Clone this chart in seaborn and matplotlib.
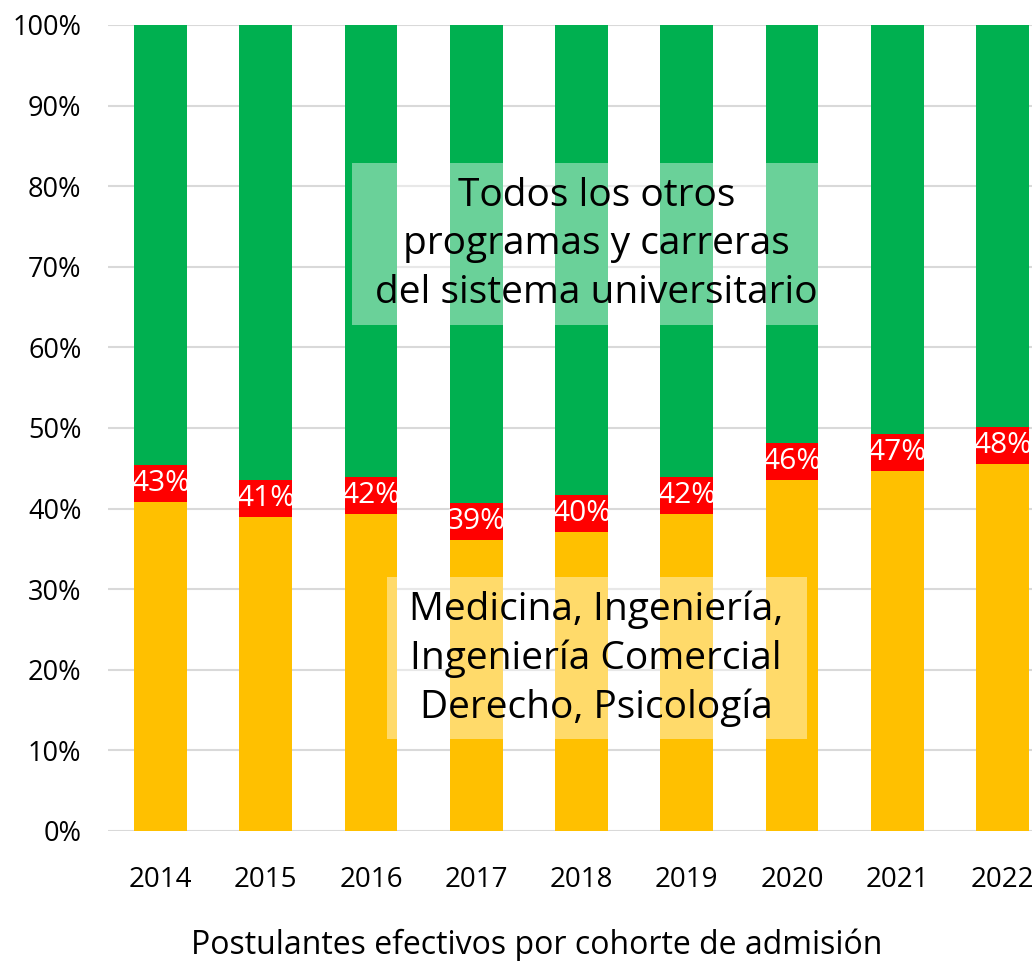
import matplotlib
matplotlib.use("Agg")
import matplotlib.pyplot as plt
import seaborn as sns
import pandas as pd
from matplotlib.patches import Rectangle

# Datos
years = ["2014", "2015", "2016", "2017", "2018", "2019", "2020", "2021", "2022"]
share_top5 = [43.1, 41.3, 41.6, 38.4, 39.4, 41.6, 45.8, 47.0, 47.8]
share_labels = ["43%", "41%", "42%", "39%", "40%", "42%", "46%", "47%", "48%"]

df = pd.DataFrame({"year": years, "total": [100] * len(years), "top5": share_top5})

sns.set_style("white")
plt.rcParams["font.family"] = ["Open Sans", "DejaVu Sans"]

fig = plt.figure(figsize=(10.34, 9.61), dpi=100)
ax = fig.add_axes([0.1044, 0.1353, 0.8936, 0.8387])

green = "#00B050"
yellow = "#FFC000"
red = "#FF0000"

sns.barplot(data=df, x="year", y="total", color=green, width=0.5, saturation=1,
            linewidth=0, ax=ax, zorder=2)
sns.barplot(data=df, x="year", y="top5", color=yellow, width=0.5, saturation=1,
            linewidth=0, ax=ax, zorder=3)

# Etiquetas rojas centradas en el borde entre segmentos
box_h = 4.6
ax.bar(range(len(years)), [box_h] * len(years), bottom=[v - box_h / 2 for v in share_top5],
       width=0.5, color=red, linewidth=0, zorder=4)
for i, (v, lab) in enumerate(zip(share_top5, share_labels)):
    ax.text(i, v, lab, ha="center", va="center", color="white", fontsize=21.5, zorder=5)

# Cuadros de texto semitransparentes
ax.add_patch(Rectangle((1.816, 62.8), 4.43, 20.1, facecolor="white", alpha=0.42,
                       edgecolor="none", zorder=6))
ax.text(4.14, 72.8, "Todos los otros\nprogramas y carreras\ndel sistema universitario",
        ha="center", va="center", fontsize=28, linespacing=1.36, color="black", zorder=7)
ax.add_patch(Rectangle((2.15, 11.4), 3.99, 20.1, facecolor="white", alpha=0.42,
                       edgecolor="none", zorder=6))
ax.text(4.14, 21.4, "Medicina, Ingeniería,\nIngeniería Comercial\nDerecho, Psicología",
        ha="center", va="center", fontsize=28, linespacing=1.36, color="black", zorder=7)

ax.set_ylim(0, 100)
ax.set_xlim(-0.5, 8.28)
ax.set_yticks(range(0, 101, 10))
ax.set_yticklabels([f"{t}%" for t in range(0, 101, 10)])
ax.yaxis.grid(True, color="#D9D9D9", linewidth=1.5, zorder=0)
ax.set_axisbelow(True)
for s in ax.spines.values():
    s.set_visible(False)
ax.tick_params(axis="y", length=0, labelsize=19.5, colors="black", pad=19)
ax.tick_params(axis="x", length=0, labelsize=20, colors="black", pad=25)
ax.set_ylabel("")
ax.set_xlabel("Postulantes efectivos por cohorte de admisión", fontsize=23,
              color="black", labelpad=26)
ax.xaxis.set_label_coords(0.464, -0.121)

fig.savefig("out.png", dpi=100)
